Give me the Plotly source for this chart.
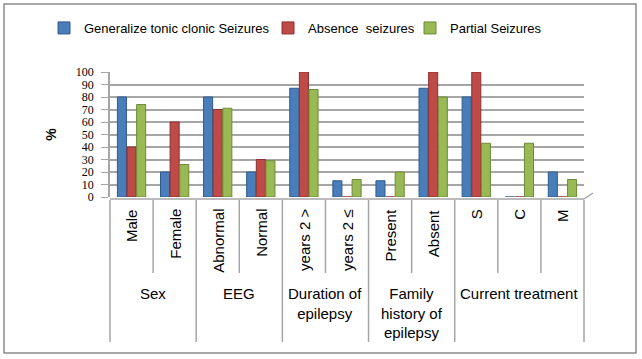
import plotly.graph_objects as go

categories = ["Male", "Female", "Abnormal", "Normal", "years 2 >", "years 2 ≤",
              "Present", "Absent", "S", "C", "M"]
groups = ["Sex", "EEG", "Duration of<br>epilepsy", "Family<br>history of<br>epilepsy", "Current treatment"]
group_sizes = [2, 2, 2, 2, 3]

generalized = [80, 20, 80, 20, 87, 13, 13, 87, 80, 0, 20]
absence = [40, 60, 70, 30, 100, 0, 0, 100, 100, 0, 0]
partial = [74, 26, 71, 29, 86, 14, 20, 80, 43, 43, 14]

series_names = ["Generalize tonic clonic Seizures", "Absence  seizures", "Partial Seizures"]
colors = ["#4A7EBB", "#BE4B48", "#98B954"]
edge = ["#2F5A8C", "#8C2F2D", "#6E8A36"]
y_ticks = [0, 10, 20, 30, 40, 50, 60, 70, 80, 90, 100]

W, H = 642, 359
L, R, T, B = 110, 58, 72, 162
PW, PH = W - L - R, H - T - B

def px_to_paper_x(px):
    return (px - L) / PW

def px_to_paper_y(py):
    return (H - B - py) / PH

fig = go.Figure()
legend_ids = ["legend", "legend2", "legend3"]
for name, vals, c, e, lg in zip(series_names, [generalized, absence, partial], colors, edge, legend_ids):
    fig.add_trace(go.Bar(x=categories, y=vals, name=name, legend=lg,
                         marker=dict(color=c, line=dict(color=e, width=1))))

annotations = []
for cat in categories:
    annotations.append(dict(x=cat, xref="x", y=px_to_paper_y(207), yref="paper",
                            text=cat, textangle=-90, showarrow=False,
                            xanchor="center", yanchor="top",
                            font=dict(family="Liberation Sans", size=15, color="#000")))

shapes = []
n = len(categories)
start = 0
boundaries_major = [0]
for g, sz in zip(groups, group_sizes):
    center = start + (sz - 1) / 2
    annotations.append(dict(x=center, xref="x", y=px_to_paper_y(283), yref="paper",
                            text=g, showarrow=False, xanchor="center", yanchor="top",
                            align="center",
                            font=dict(family="Liberation Sans", size=15, color="#000")))
    for k in range(1, sz):
        xb = (start + k) / n
        shapes.append(dict(type="line", xref="paper", yref="paper",
                           x0=xb, x1=xb, y0=px_to_paper_y(200), y1=px_to_paper_y(273),
                           line=dict(color="#A6A6A6", width=1.5)))
    start += sz
    boundaries_major.append(start)
for b in boundaries_major:
    xb = b / n
    shapes.append(dict(type="line", xref="paper", yref="paper",
                       x0=xb, x1=xb, y0=px_to_paper_y(200), y1=px_to_paper_y(342),
                       line=dict(color="#A6A6A6", width=1.5)))
# floor front edge and right slant
shapes.append(dict(type="line", xref="paper", yref="paper",
                   x0=0, x1=1, y0=px_to_paper_y(199), y1=px_to_paper_y(199),
                   line=dict(color="#A6A6A6", width=1.5)))
shapes.append(dict(type="line", xref="paper", yref="paper",
                   x0=1, x1=px_to_paper_x(593), y0=px_to_paper_y(199), y1=px_to_paper_y(193),
                   line=dict(color="#A6A6A6", width=1.5)))
# outer chart border
shapes.append(dict(type="rect", xref="paper", yref="paper",
                   x0=px_to_paper_x(4), x1=px_to_paper_x(636),
                   y0=px_to_paper_y(353), y1=px_to_paper_y(4),
                   line=dict(color="#8C8C8C", width=1.5), fillcolor="rgba(0,0,0,0)"))

leg_font = dict(family="Liberation Sans", size=13, color="#000")
legend_common = dict(orientation="h", xref="container", yref="container",
                     yanchor="middle", xanchor="left", y=1 - 28 / H,
                     font=leg_font, itemwidth=30, bgcolor="rgba(0,0,0,0)",
                     tracegroupgap=0)

fig.update_layout(
    width=W, height=H,
    margin=dict(l=L, r=R, t=T, b=B),
    paper_bgcolor="white", plot_bgcolor="white",
    barmode="group", bargap=0.33, bargroupgap=0.06,
    showlegend=True,
    legend=dict(legend_common, x=(84 - 40) / W),
    legend2=dict(legend_common, x=(308 - 40) / W),
    legend3=dict(legend_common, x=(450 - 40) / W),
    xaxis=dict(type="category", range=[-0.5, n - 0.5], showticklabels=False,
               showgrid=False, showline=False, zeroline=False, ticks=""),
    yaxis=dict(range=[0, 100], tickvals=y_ticks, ticks="outside", ticklen=7,
               ticklabelstandoff=5,
               tickcolor="#A6A6A6", showgrid=True, gridcolor="#A6A6A6", gridwidth=1.5,
               showline=True, linecolor="#A6A6A6", linewidth=1.5, zeroline=False,
               tickfont=dict(family="Liberation Serif", size=12, color="#000"),
               title=dict(text="<b>%</b>", standoff=16,
                          font=dict(family="Liberation Sans", size=14, color="#000"))),
    annotations=annotations,
    shapes=shapes,
)

fig.write_html("out.html", config={"displayModeBar": False},
               post_script="document.body.style.margin='0';")
